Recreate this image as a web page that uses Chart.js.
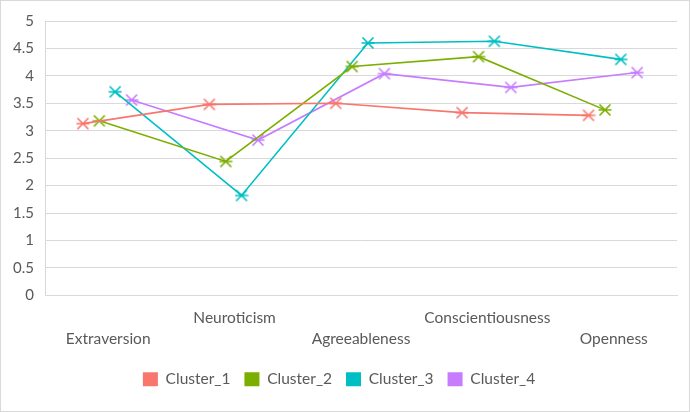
<!DOCTYPE html>
<html>
<head>
<meta charset="utf-8">
<script src="https://cdn.jsdelivr.net/npm/chart.js@4/dist/chart.umd.min.js"></script>
<style>
    html, body { margin: 0; padding: 0; background: #fff; }
    #wrap { width: 690px; height: 412px; box-sizing: border-box; border: 1px solid #d9d9d9; }
</style>
</head>
<body>
<div id="wrap"><canvas id="clusterChart"></canvas></div>
<script>
// traits on the x axis
const traits = ["Extraversion", "Neuroticism", "Agreeableness", "Conscientiousness", "Openness"];

// mean score per trait for each cluster
const cluster1 = [3.13, 3.48, 3.50, 3.33, 3.28];
const cluster2 = [3.18, 2.44, 4.17, 4.35, 3.38];
const cluster3 = [3.71, 1.82, 4.60, 4.63, 4.30];
const cluster4 = [3.56, 2.83, 4.04, 3.79, 4.06];

const clusterNames = ["Cluster_1", "Cluster_2", "Cluster_3", "Cluster_4"];
const yTicks = [0, 0.5, 1, 1.5, 2, 2.5, 3, 3.5, 4, 4.5, 5];

const colors = ["#F8766D", "#7CAE00", "#00BFC4", "#C77CFF"];
// each cluster sits slightly shifted inside its trait slot
const shifts = [-0.2, -0.07, 0.055, 0.185];

// x mark with a bar through the middle, like the excel star marker
function makeMarker (color) {
    let c = document.createElement('canvas');
    c.width = 14;
    c.height = 14;
    let g = c.getContext('2d');
    g.strokeStyle = color;
    g.lineWidth = 1.6;
    g.beginPath();
    g.moveTo(1.5, 1.5); g.lineTo(12.5, 12.5);
    g.moveTo(12.5, 1.5); g.lineTo(1.5, 12.5);
    g.moveTo(0.5, 7); g.lineTo(13.5, 7);
    g.stroke();
    return c;
}

let series = [cluster1, cluster2, cluster3, cluster4];

let datasets = series.map((vals, i) => {
    return {
        label: clusterNames[i],
        data: vals.map((v, j) => ({x: j + shifts[i], y: v})),
        borderColor: colors[i],
        backgroundColor: colors[i],
        borderWidth: 1.6,
        pointStyle: makeMarker(colors[i]),
        pointRadius: 7,
        pointHoverRadius: 7,
        tension: 0
    };
});

let ctx = document.getElementById('clusterChart');
let myChart = new Chart(ctx, {
    type: 'line',
    data: {datasets: datasets},
    options: {
        responsive: true,
        maintainAspectRatio: false,
        animation: false,
        layout: {
            padding: {left: 0, right: 12, top: 12, bottom: 14}
        },
        scales: {
            x: {
                type: 'linear',
                min: -0.5,
                max: 4.5,
                afterBuildTicks: scale => {
                    scale.ticks = traits.map((t, i) => ({value: i}));
                },
                afterFit: scale => { scale.height -= 4; },
                grid: {display: false, drawTicks: false},
                border: {display: true, color: '#d9d9d9'},
                ticks: {
                    color: '#595959',
                    font: {family: 'Lato', size: 15.5, lineHeight: 1.36},
                    padding: 12,
                    maxRotation: 0,
                    autoSkip: false,
                    callback: (v, i) => (i % 2 === 1 ? [traits[i]] : ['', traits[i]])
                }
            },
            y: {
                min: 0,
                max: 5,
                afterBuildTicks: scale => {
                    scale.ticks = yTicks.map(v => ({value: v}));
                },
                afterFit: scale => { scale.width = 44; },
                grid: {color: '#d9d9d9', lineWidth: 1, drawTicks: false},
                border: {display: true, color: '#d9d9d9'},
                ticks: {
                    color: '#595959',
                    font: {family: 'Lato', size: 15},
                    padding: 11,
                    callback: v => String(v)
                }
            }
        },
        plugins: {
            legend: {
                position: 'bottom',
                labels: {
                    color: '#595959',
                    font: {family: 'Lato', size: 15.5},
                    boxWidth: 15,
                    boxHeight: 14,
                    padding: 14,
                    generateLabels: chart => chart.data.datasets.map((d, i) => ({
                        text: d.label,
                        fillStyle: colors[i],
                        strokeStyle: colors[i],
                        lineWidth: 0,
                        fontColor: '#595959',
                        datasetIndex: i
                    }))
                }
            },
            tooltip: {enabled: false}
        }
    }
});
</script>
</body>
</html>
